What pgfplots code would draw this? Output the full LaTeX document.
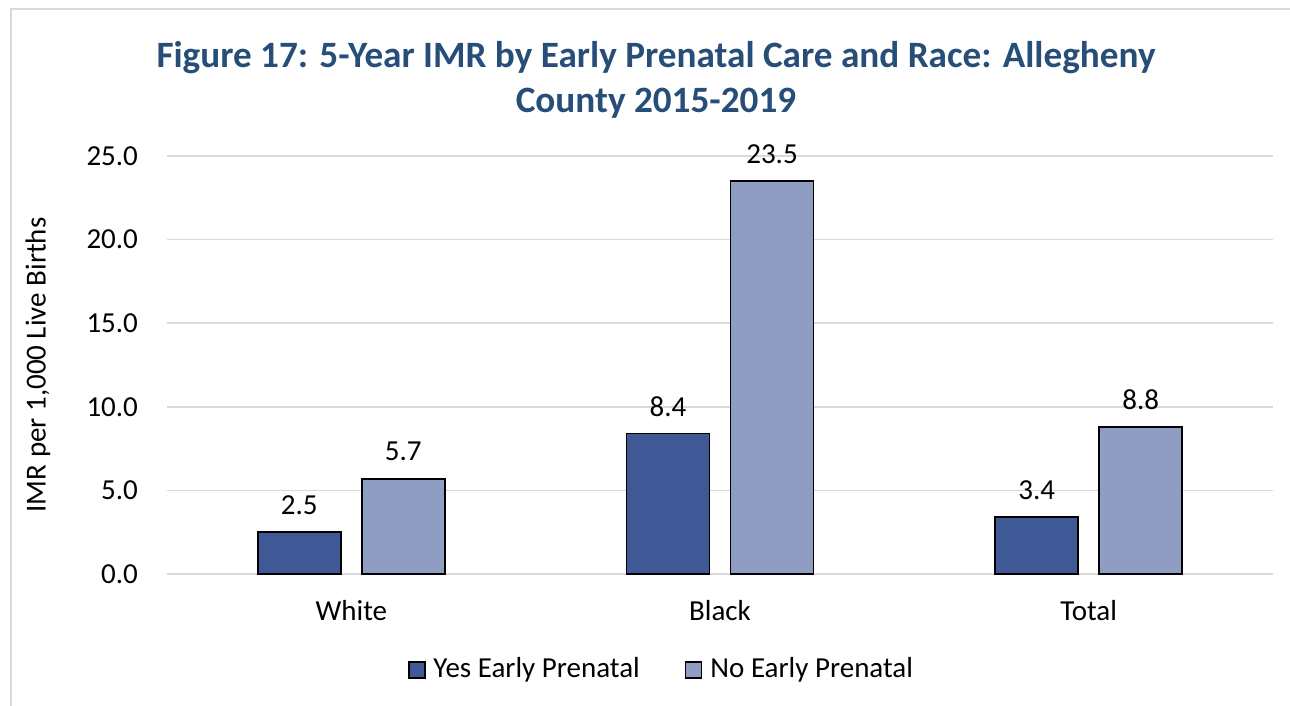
\documentclass[border=0pt]{standalone}
\usepackage{pgfplots}
\pgfplotsset{compat=1.18}
\usepackage{fontspec}
\setmainfont{Carlito}
\definecolor{titleblue}{HTML}{264E78}
\definecolor{darkbar}{HTML}{3F5896}
\definecolor{lightbar}{HTML}{8F9DC2}
\definecolor{gridgrey}{HTML}{D9D9D9}
\begin{document}
\begin{tikzpicture}[x=1pt,y=1pt]
\useasboundingbox (0,0) rectangle (645,353);
\draw[gridgrey, line width=1.2pt] (5.5,0) -- (5.5,348.5) -- (645,348.5);
\begin{axis}[
  at={(83.5pt,66pt)}, anchor=south west,
  scale only axis, width=553pt, height=209pt,
  xmin=-0.5, xmax=2.5, ymin=0, ymax=25,
  ybar, bar width=41.5pt,
  xtick={0,1,2}, xticklabels={White,Black,Total},
  ytick={0,5,...,25},
  /pgf/number format/fixed, /pgf/number format/fixed zerofill, /pgf/number format/precision=1, /pgf/number format/assume math mode=true,
  tick label style={font=\fontsize{14.5}{16}\selectfont, black},
  yticklabel style={xshift=-11pt},
  xticklabel style={yshift=-9.5pt},
  major tick length=0pt,
  ymajorgrids, grid style={gridgrey, line width=0.8pt},
  axis line style={draw=none},
  nodes near coords,
  nodes near coords style={font=\fontsize{14.5}{16}\selectfont, black, anchor=center, yshift=13.5pt},
  clip=false,
]
\addplot[fill=darkbar, draw=black, line width=0.9pt, bar shift=-26pt] coordinates {(0,2.5) (1,8.4) (2,3.4)};
\addplot[fill=lightbar, draw=black, line width=0.9pt, bar shift=26pt] coordinates {(0,5.7) (1,23.5) (2,8.8)};
\end{axis}
\node[rotate=90, font=\fontsize{14.5}{16}\selectfont] at (19,170.5) {IMR per 1,000 Live Births};
\node[font=\fontsize{18.6}{22.5}\selectfont\bfseries, text=titleblue, align=center] at (328,313) {Figure 17: 5-Year IMR by Early Prenatal Care and Race: Allegheny\\County 2015-2019};
\node[draw=black, line width=0.9pt, fill=darkbar, minimum size=8pt, inner sep=0pt] at (208.5,18) {};
\node[anchor=west, font=\fontsize{14.5}{16}\selectfont] at (213.2,18) {Yes Early Prenatal};
\node[draw=black, line width=0.9pt, fill=lightbar, minimum size=8pt, inner sep=0pt] at (346.75,18) {};
\node[anchor=west, font=\fontsize{14.5}{16}\selectfont] at (351.7,18) {No Early Prenatal};
\end{tikzpicture}
\end{document}
